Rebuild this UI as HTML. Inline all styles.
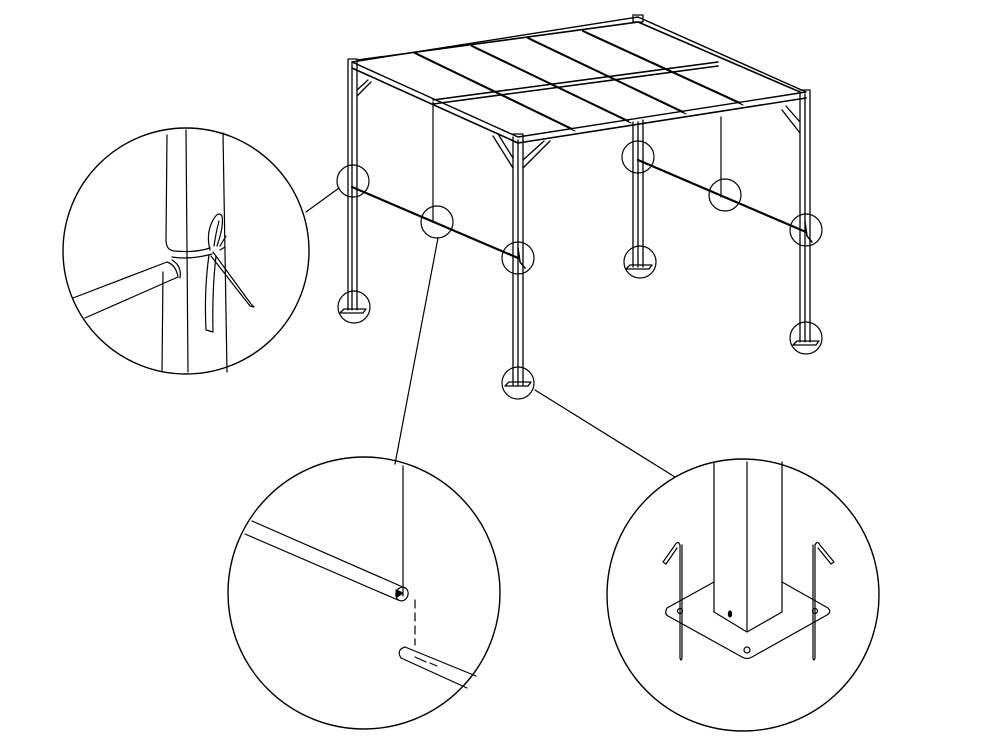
<!DOCTYPE html>
<html><head><meta charset="utf-8"><style>html,body{margin:0;padding:0;background:#fff}svg{display:block}</style></head>
<body>
<svg width="1000" height="750" viewBox="0 0 1000 750" xmlns="http://www.w3.org/2000/svg" fill="none" stroke="#000" stroke-linecap="round" stroke-linejoin="round">
<g stroke-width="1.6">
<polygon points="352,62 638,17 806,92 518,137" stroke-width="1.4"/>
<path d="M352,68 L518,143 L806,98"/>
<path d="M358,60 L638,22 L800,92"/>
<path d="M433,100 L718,62 M433,104 L718,66"/>
<path d="M415,53 L572,129 M472,46 L628,121 M528,38 L683,112 M583,31 L740,103" stroke-width="2"/>
<path d="M418,55 L575,131 M475,48 L631,123 M531,40 L686,114 M586,33 L743,105" stroke-width="1"/>
</g>
<g stroke-width="1.3">
<path d="M348,60 L348,310 M357,60 L357,310 M352,62 L352,310"/>
<path d="M513,137 L513,385 M523,135 L523,385 M518,140 L518,385"/>
<path d="M633,122 L633,267 M643,120 L643,267 M638,122 L638,267"/>
<path d="M800,92 L800,342 M810,91 L810,342 M805,94 L805,342"/>
<path d="M633,15 L643,15 L643,22 L633,22Z"/>
<path d="M348,59 L357,59"/>
<path d="M513,134 L523,134"/>
<path d="M800,90 L810,90"/>
<path d="M357,96 L371,82 M357,90 L368,80"/>
<path d="M493,136 L513,168 M498,134 L513,158 M523,168 L550,141 M523,160 L544,141"/>
<path d="M782,110 L800,133 M786,106 L800,122"/>
<path d="M340,313 L363,313 L366,309 L344,309Z"/>
<path d="M505,386 L528,386 L531,382 L509,382Z"/>
<path d="M626,269 L649,269 L652,265 L630,265Z"/>
<path d="M793,345 L816,345 L819,341 L797,341Z"/>
</g>
<path d="M433,102 L433,222 M721,117 L721,197" stroke-width="1.2"/>
<path d="M352,187 L518,258 M638,160 L806,232" stroke-width="2.2"/>
<path d="M518,248 L520,262 L525,268 M805,222 L807,236 L812,242" stroke-width="1.5"/>
<g stroke-width="1.2">
<circle cx="353" cy="181" r="16"/><circle cx="437" cy="222" r="16"/>
<circle cx="518" cy="258" r="16"/><circle cx="354" cy="307" r="16"/>
<circle cx="638" cy="157" r="16"/><circle cx="640" cy="262" r="16"/>
<circle cx="725" cy="195" r="16"/><circle cx="806" cy="230" r="16"/>
<circle cx="806" cy="338" r="16"/><circle cx="518" cy="383" r="16"/>
</g>
<path d="M306,212 L339,188 M438,238 L395,464 M535,390 L675,477" stroke-width="1.2"/>
<g stroke-width="1.4">
<circle cx="186" cy="251" r="123"/>
<circle cx="364" cy="593" r="136"/>
<circle cx="743" cy="595" r="136"/>
</g>
<g stroke-width="1.2">
<path d="M167,135 L166,240 Q166,250 174,251 Q195,253 210,248"/>
<path d="M172,257 Q190,260 212,254"/>
<path d="M186,130 L188,372 M223,133 L227,372"/>
<path d="M163,272 L162,372"/>
<path d="M73,298 L167,262 M85,318 L178,277"/>
<path d="M167,262 Q176,265 178,277"/>
<path d="M172,260 Q182,266 180,278"/>
<path d="M210,250 Q206,235 212,222 Q218,210 222,216 Q224,226 217,246"/>
<path d="M214,246 Q216,232 219,221"/>
<path d="M213,252 L251,304 L254,307 L250,306 L211,256"/>
<path d="M209,255 Q204,290 206,330 L213,332 Q212,290 216,256"/>
<path d="M220,246 L226,236 M220,250 L225,247"/>
</g>
<g stroke-width="1.2">
<path d="M403,466 L403,596"/>
<path d="M252,521 L405,588 M245,534 L398,600"/>
<ellipse cx="402" cy="594" rx="6" ry="7" transform="rotate(20 402 594)"/>
<path d="M396,590 L403,593 L397,597 Z" fill="#000"/>
<path d="M415,600 L415,645" stroke-dasharray="8,5"/>
<path d="M405,647 L476,676 M401,658 L467,688 M405,647 Q396,650 401,658"/>
<path d="M415,657 L426,662 M430,663 L437,666"/>
</g>
<g stroke-width="1.2">
<path d="M714,462 L714,612 L747,632 L782,612 L782,462 M747,462 L747,632"/>
<path d="M714,582 L667,608 Q664,614 668,616 L742,657 Q747,660 752,657 L827,615 Q832,612 828,608 L782,582"/>
<path d="M680,658 L680,545 Q678,540 675,545 L663,562 L666,564 L677,548 M682,545 L682,658 Q681,662 680,658"/>
<path d="M815,658 L815,545 Q817,540 820,545 L834,562 L831,564 L818,548 M813,545 L813,658 Q814,662 815,658"/>
<circle cx="680" cy="611" r="2.5"/><circle cx="815" cy="611" r="2.5"/>
<circle cx="747" cy="650" r="3"/>
<ellipse cx="730" cy="614" rx="1.6" ry="3" fill="#000"/>
</g>
</svg>
</body></html>
